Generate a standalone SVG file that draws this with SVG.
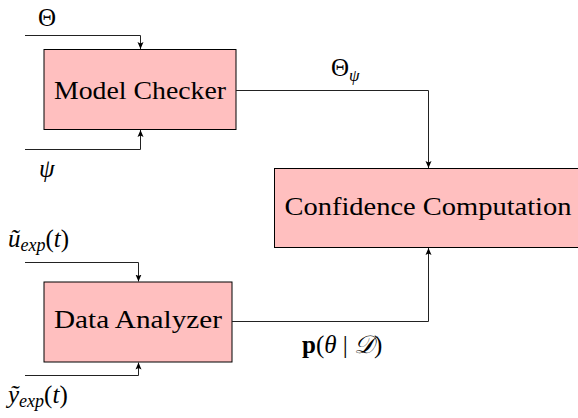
<svg xmlns="http://www.w3.org/2000/svg" width="578" height="418" viewBox="0 0 578 418">
<style>
.box{fill:#ffbfbf;stroke:#000;stroke-width:1}
.lbl{font-family:"Liberation Serif","Times New Roman",serif;font-size:25px;fill:#000}
.it{font-style:italic}
.bf{font-weight:bold}
.edge{fill:none;stroke:#222;stroke-width:1}
</style>
<defs>
<marker id="arr" markerUnits="userSpaceOnUse" markerWidth="8" markerHeight="8" viewBox="0 0 8 8" refX="7" refY="4" orient="auto">
<path d="M0,1 L7,4 L0,7 L1.5,4 Z" fill="#000"/>
</marker>
</defs>
<rect width="578" height="418" fill="#fff"/>
<g id="model-checker">
<rect class="box" x="44" y="49.5" width="192" height="80"/>
<text class="lbl" x="140" y="99" text-anchor="middle" textLength="172" lengthAdjust="spacingAndGlyphs">Model Checker</text>
</g>
<g id="data-analyzer">
<rect class="box" x="44" y="282" width="188" height="80"/>
<text class="lbl" x="138" y="328" text-anchor="middle" textLength="168" lengthAdjust="spacingAndGlyphs">Data Analyzer</text>
</g>
<g id="confidence-computation">
<rect class="box" x="274.5" y="168.5" width="304" height="79"/>
<text class="lbl" x="428" y="215" text-anchor="middle" textLength="287" lengthAdjust="spacingAndGlyphs">Confidence Computation</text>
</g>
<g id="connectors">
<path class="edge" d="M25,35.5 H140.5 V49" marker-end="url(#arr)"/>
<path class="edge" d="M25,149.5 H140.5 V130" marker-end="url(#arr)"/>
<path class="edge" d="M25,262.5 H138.5 V281.5" marker-end="url(#arr)"/>
<path class="edge" d="M25,375.5 H138.5 V362.5" marker-end="url(#arr)"/>
<path class="edge" d="M236,90.5 H428.5 V168" marker-end="url(#arr)"/>
<path class="edge" d="M232,321.5 H428.5 V248" marker-end="url(#arr)"/>
</g>
<g id="labels">
<text class="lbl" x="38" y="26">Θ</text>
<text class="lbl it" x="39" y="177">ψ</text>
<text class="lbl" x="331" y="76">Θ<tspan class="it" font-size="17" dy="5">ψ</tspan></text>
<text class="lbl" x="302" y="353"><tspan class="bf">p</tspan>(<tspan class="it">θ</tspan> | <tspan class="it">𝒟</tspan>)</text>
<text class="lbl" x="8" y="247"><tspan class="it">ũ</tspan><tspan class="it" font-size="18" dy="4">exp</tspan><tspan dy="-4">(</tspan><tspan class="it">t</tspan>)</text>
<text class="lbl" x="8" y="403"><tspan class="it">ỹ</tspan><tspan class="it" font-size="18" dy="4">exp</tspan><tspan dy="-4">(</tspan><tspan class="it">t</tspan>)</text>
</g>
</svg>
